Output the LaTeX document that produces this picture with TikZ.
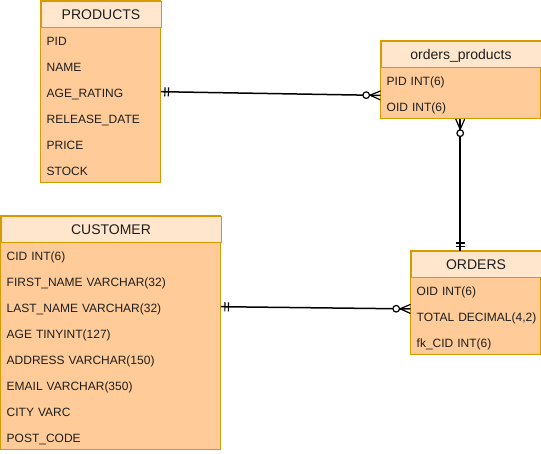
\documentclass[tikz,border=0pt]{standalone}
\usepackage{fontspec}
\setmainfont{Liberation Sans}
\usetikzlibrary{calc}

\definecolor{hdrfill}{HTML}{FFE6CC}
\definecolor{rowfill}{HTML}{FFCC99}
\definecolor{edgeorange}{HTML}{D79B00}
\definecolor{txt}{HTML}{1E1E1E}

\tikzset{
  bodybox/.style={draw=edgeorange, fill=rowfill, line width=1pt},
  tblhead/.style={draw=edgeorange, fill=hdrfill, line width=1pt, anchor=north west,
    minimum height=26pt, inner sep=0pt, text=txt, font=\fontsize{14}{16}\selectfont,
    text height=10pt, text depth=0pt},
  tblrow/.style={anchor=north west, minimum height=26pt, inner xsep=6pt, inner ysep=0pt,
    align=left, text=txt, font=\fontsize{12}{14}\selectfont,
    text height=10.6pt, text depth=0pt},
  relline/.style={draw=black, line width=1.5pt},
}

% ER cardinality markers: #1 = end on the entity border, #2 = point toward the other end
\newcommand\mandOne[2]{%
  \foreach \d in {4,7.5}{%
    \coordinate (mk) at ($(#1)!\d pt!(#2)$);
    \draw[relline, line width=1.2pt] ($(mk)!4.5pt!90:(#2)$) -- ($(mk)!4.5pt!-90:(#2)$);
  }}
\newcommand\zeroMany[2]{%
  \coordinate (mk) at ($(#1)!10.5pt!(#2)$);
  \draw[relline, line width=1.2pt] ($(#1)!4.5pt!90:(#2)$) -- (mk) -- ($(#1)!4.5pt!-90:(#2)$);
  \draw[relline, line width=1.2pt, fill=white] ($(#1)!14.3pt!(#2)$) circle (3.3pt);
}

\begin{document}
\begin{tikzpicture}[x=1pt, y=-1pt]
\useasboundingbox (0,0) rectangle (541,453);

% PRODUCTS
\path[bodybox] (40.5,0.5) rectangle (160.5,182.5);
\node[tblhead, minimum width=120pt] (prod) at (40.5,0.5) {PRODUCTS};
\begin{scope}[tblrow/.append style={text width=108pt}]
  \node[tblrow] (prod-pid)   at (40.5,26.5)  {PID};
  \node[tblrow] (prod-name)  at (40.5,52.5)  {NAME};
  \node[tblrow] (prod-age)   at (40.5,78.5)  {AGE\_RATING};
  \node[tblrow] (prod-rel)   at (40.5,104.5) {RELEASE\_DATE};
  \node[tblrow] (prod-price) at (40.5,130.5) {PRICE};
  \node[tblrow] (prod-stock) at (40.5,156.5) {STOCK};
\end{scope}

% orders_products
\path[bodybox] (380.5,40.5) rectangle (540.5,118.5);
\node[tblhead, minimum width=160pt] (op) at (380.5,40.5) {orders\_products};
\begin{scope}[tblrow/.append style={text width=148pt}]
  \node[tblrow] (op-pid) at (380.5,66.5) {PID INT(6)};
  \node[tblrow] (op-oid) at (380.5,92.5) {OID INT(6)};
\end{scope}

% CUSTOMER
\path[bodybox] (0.5,215.5) rectangle (220.5,449.5);
\node[tblhead, minimum width=220pt] (cust) at (0.5,215.5) {CUSTOMER};
\begin{scope}[tblrow/.append style={text width=208pt}]
  \node[tblrow] (cust-cid)   at (0.5,241.5) {CID INT(6)};
  \node[tblrow] (cust-first) at (0.5,267.5) {FIRST\_NAME VARCHAR(32)};
  \node[tblrow] (cust-last)  at (0.5,293.5) {LAST\_NAME VARCHAR(32)};
  \node[tblrow] (cust-age)   at (0.5,319.5) {AGE TINYINT(127)};
  \node[tblrow] (cust-addr)  at (0.5,345.5) {ADDRESS VARCHAR(150)};
  \node[tblrow] (cust-email) at (0.5,371.5) {EMAIL VARCHAR(350)};
  \node[tblrow] (cust-city)  at (0.5,397.5) {CITY VARC};
  \node[tblrow] (cust-post)  at (0.5,423.5) {POST\_CODE};
\end{scope}

% ORDERS
\path[bodybox] (410.5,250.5) rectangle (540.5,354.5);
\node[tblhead, minimum width=130pt] (ord) at (410.5,250.5) {ORDERS};
\begin{scope}[tblrow/.append style={text width=118pt}]
  \node[tblrow] (ord-oid)   at (410.5,276.5) {OID INT(6)};
  \node[tblrow] (ord-total) at (410.5,302.5) {\mbox{TOTAL DECIMAL(4,2)}\hss};
  \node[tblrow] (ord-cid)   at (410.5,328.5) {fk\_CID INT(6)};
\end{scope}

% relationship end points on the table borders
\coordinate (p-end)  at (prod-age.east);
\coordinate (op-in)  at ($(op-pid.south west)+(0,2.5)$);
\coordinate (op-out) at ($(op-oid.south)+(-0.5,0)$);
\coordinate (ord-in) at (ord.north -| op-out);
\coordinate (c-end)  at (cust-last.east);
\coordinate (ord-w)  at ($(ord-oid.south west)+(0,6)$);

% PRODUCTS 1 -- 0..n orders_products
\draw[relline] (p-end) -- (op-in);
\mandOne{p-end}{op-in}
\zeroMany{op-in}{p-end}

% orders_products 0..n -- 1 ORDERS
\draw[relline] (op-out) -- (ord-in);
\zeroMany{op-out}{ord-in}
\mandOne{ord-in}{op-out}

% CUSTOMER 1 -- 0..n ORDERS
\draw[relline] (c-end) -- (ord-w);
\mandOne{c-end}{ord-w}
\zeroMany{ord-w}{c-end}
\end{tikzpicture}
\end{document}
